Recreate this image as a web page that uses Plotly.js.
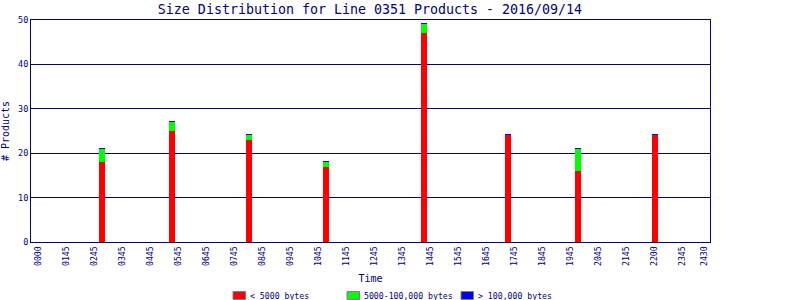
<!DOCTYPE html>
<html>
<head>
<meta charset="utf-8">
<script src="https://cdn.plot.ly/plotly-3.0.1.min.js"></script>
<style>html,body{margin:0;padding:0;background:#fff;}#chart{width:800px;height:300px;}</style>
</head>
<body>
<div id="chart"></div>
<script>
// bar positions in hours from 0000
var barTimes = [2.29, 4.79, 7.54, 10.29, 13.79, 16.79, 19.29, 22.04];
var small = [18, 25, 23, 17, 47, 24, 16, 24];
var medium = [3, 2, 1, 1, 2, 0, 5, 0];
var large = [0.25, 0.25, 0.25, 0.25, 0.25, 0.25, 0.25, 0.25];
var seriesNames = ['< 5000 bytes', '5000-100,000 bytes', '> 100,000 bytes'];
var seriesColors = ['#ff0000', '#00ff00', '#0000ff'];
var tickLabels = ["0000","0145","0245","0345","0445","0545","0645","0745","0845","0945","1045","1145","1245","1345","1445","1545","1645","1745","1845","1945","2045","2145","2200","2345","2430"];
var tickPos = [0,1,2,3,4,5,6,7,8,9,10,11,12,13,14,15,16,17,18,19,20,21,22,23,23.79];

var navy = '#000080';
var font = 'DejaVu Sans Mono, monospace';
var w = barTimes.map(function(){return 0.214;});
var vals = [small, medium, large];
var data = vals.map(function(v, i){
  return {type:'bar', name:seriesNames[i], x:barTimes, y:v, width:w,
    marker:{color:seriesColors[i], line:{width:0}}, hoverinfo:'skip', showlegend:false};
});

// legend drawn as shapes + annotations (plot area: px 31..710, 20..242)
var L = 31, R = 710, T = 20, B = 242;
function px(x){ return (x - L) / (R - L); }
function py(y){ return (B - y) / (B - T); }
var legSym = [233, 347, 461];
var legTxt = [249, 362.5, 476.5];
var shapes = [], annotations = [];
for (var i = 0; i < 3; i++) {
  shapes.push({type:'rect', xref:'paper', yref:'paper', x0:px(legSym[i]), x1:px(legSym[i]+12.5), y0:py(299.5), y1:py(291.5),
    fillcolor:seriesColors[i], line:{color:'#808080', width:1}});
  annotations.push({xref:'paper', yref:'paper', x:px(legTxt[i]), y:py(295.5), xanchor:'left', yanchor:'middle',
    text:seriesNames[i], showarrow:false, borderpad:0, font:{family:font, size:8.2, color:navy}});
}

var layout = {
  width:800, height:300,
  margin:{l:L, r:800-R, t:T, b:300-B},
  paper_bgcolor:'#ffffff', plot_bgcolor:'#ffffff',
  barmode:'stack',
  font:{family:font, color:navy, size:10},
  showlegend:false,
  title:{text:'Size Distribution for Line 0351 Products - 2016/09/14', font:{family:font, size:13.3, color:navy}, x:0.4625, xanchor:'center', y:0.97, yanchor:'middle'},
  xaxis:{range:[-0.25,24], tickvals:tickPos, ticktext:tickLabels, tickangle:-90, tickfont:{size:8.2, color:navy, family:font},
    showgrid:false, zeroline:false, showline:true, linecolor:navy, linewidth:1, mirror:true, ticks:'', automargin:false,
    title:{text:'Time', font:{size:10, color:navy, family:font}, standoff:10}},
  yaxis:{range:[0,50], tickvals:[0,10,20,30,40,50], tickfont:{size:8.5, color:navy, family:font}, automargin:false,
    showgrid:true, gridcolor:navy, gridwidth:1, zeroline:false, showline:true, linecolor:navy, linewidth:1, mirror:true, ticks:'',
    title:{text:'# Products', font:{size:10, color:navy, family:font}, standoff:8}},
  shapes:shapes,
  annotations:annotations
};
Plotly.newPlot('chart', data, layout, {staticPlot:true, displayModeBar:false});
</script>
</body>
</html>
